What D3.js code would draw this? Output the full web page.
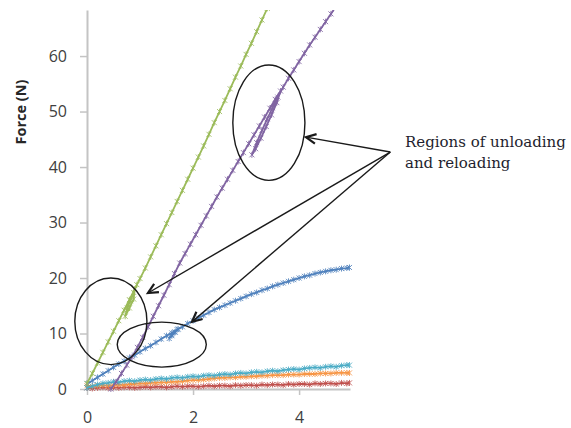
<!DOCTYPE html>
<html>
<head>
<meta charset="utf-8">
<script src="https://cdn.jsdelivr.net/npm/d3@7"></script>
<style>
  body { margin: 0; background: #fff; }
  svg { display: block; }
</style>
</head>
<body>
<div id="chart"></div>
<script>
// Force vs displacement, with unloading / reloading loops

// x ticks and y ticks
var xTicks = [0, 2, 4];
var yTicks = [0, 10, 20, 30, 40, 50, 60];

// shared sample positions for the low series
var sampleX = [0, 0.1, 0.2, 0.3, 0.4, 0.5, 0.6, 0.7, 0.8, 0.9, 1.0, 1.1, 1.2, 1.3, 1.4, 1.5, 1.6, 1.7, 1.8, 1.9,
  2.0, 2.1, 2.2, 2.3, 2.4, 2.5, 2.6, 2.7, 2.8, 2.9, 3.0, 3.1, 3.2, 3.3, 3.4, 3.5, 3.6, 3.7, 3.8, 3.9,
  4.0, 4.1, 4.2, 4.3, 4.4, 4.5, 4.6, 4.7, 4.8, 4.9, 4.95];

var cyanForce = [0.2, 0.5, 0.8, 1.0, 1.1, 1.3, 1.2, 1.4, 1.5, 1.4, 1.6, 1.7, 1.6, 1.8, 1.9, 1.8, 2.0, 2.1, 2.0, 2.2,
  2.3, 2.2, 2.4, 2.5, 2.4, 2.6, 2.7, 2.6, 2.8, 2.9, 2.8, 3.0, 3.1, 3.0, 3.2, 3.3, 3.2, 3.4, 3.5, 3.6,
  3.5, 3.7, 3.8, 3.9, 3.8, 4.0, 4.1, 4.0, 4.2, 4.3, 4.3];
var orangeForce = [0.6, 0.5, 0.6, 0.7, 0.6, 0.7, 0.8, 0.7, 0.9, 0.9, 1.0, 1.0, 1.1, 1.1, 1.2, 1.2, 1.3, 1.3, 1.4, 1.5,
  1.6, 1.6, 1.7, 1.8, 1.9, 2.0, 2.0, 2.1, 2.1, 2.2, 2.2, 2.3, 2.3, 2.4, 2.4, 2.5, 2.5, 2.5, 2.6, 2.6,
  2.6, 2.7, 2.7, 2.7, 2.8, 2.8, 2.8, 2.9, 2.9, 2.9, 2.9];
var redForce = [0.2, 0.1, 0.2, 0.3, 0.2, 0.3, 0.2, 0.3, 0.3, 0.2, 0.3, 0.4, 0.3, 0.4, 0.4, 0.3, 0.4, 0.5, 0.4, 0.5,
  0.5, 0.4, 0.5, 0.6, 0.5, 0.6, 0.6, 0.5, 0.7, 0.6, 0.7, 0.7, 0.6, 0.8, 0.7, 0.8, 0.8, 0.7, 0.9, 0.8,
  0.9, 0.9, 0.8, 1.0, 0.9, 1.0, 1.0, 0.9, 1.1, 1.0, 1.1];

// series with loops are kept as [displacement, force] pairs
var greenPts = [[0, 1.0], [0.1, 2.8], [0.2, 4.7], [0.3, 6.6], [0.4, 8.5], [0.5, 10.4], [0.6, 12.3], [0.7, 14.2],
  [0.8, 16.1], [0.9, 18.0], [0.88, 16.2], [0.8, 14.6], [0.72, 13.1], [0.76, 14.6], [0.82, 15.9], [0.88, 17.4],
  [0.94, 18.8], [1.0, 19.9], [1.1, 21.8], [1.2, 23.8], [1.3, 25.8], [1.4, 27.8], [1.5, 29.8], [1.6, 31.8],
  [1.7, 33.8], [1.8, 35.8], [1.9, 37.8], [2.0, 39.8], [2.1, 41.8], [2.2, 43.8], [2.3, 45.9], [2.4, 48.0],
  [2.5, 50.0], [2.6, 52.0], [2.7, 54.1], [2.8, 56.2], [2.9, 58.2], [3.0, 60.3], [3.1, 62.3], [3.2, 64.4],
  [3.3, 66.5], [3.4, 68.6]];

var purplePts = [[0.45, 0], [0.55, 1.3], [0.65, 2.8], [0.75, 4.3], [0.85, 5.8], [0.95, 7.5], [1.05, 9.3], [1.15, 11.2],
  [1.25, 13.1], [1.35, 15.0], [1.45, 16.9], [1.55, 18.8], [1.65, 20.8], [1.75, 22.7], [1.85, 24.4], [1.95, 26.1],
  [2.05, 27.8], [2.15, 29.5], [2.25, 31.2], [2.35, 32.9], [2.45, 34.6], [2.55, 36.2], [2.65, 37.8], [2.75, 39.4],
  [2.85, 41.0], [2.95, 42.6], [3.05, 44.2], [3.15, 45.8], [3.25, 47.4], [3.35, 49.0], [3.45, 50.6], [3.55, 52.2],
  [3.65, 53.7], [3.58, 51.6], [3.48, 49.4], [3.38, 47.3], [3.28, 45.2], [3.18, 43.3], [3.11, 42.2],
  [3.2, 44.4], [3.3, 46.6], [3.4, 48.7], [3.5, 50.7], [3.6, 52.6], [3.7, 54.4], [3.8, 56.0], [3.9, 57.5],
  [4.0, 59.0], [4.1, 60.5], [4.2, 62.0], [4.3, 63.4], [4.4, 64.8], [4.5, 66.2], [4.6, 67.6], [4.7, 69.0]];

var bluePts = [[0, 1.0], [0.1, 1.5], [0.2, 2.1], [0.3, 2.7], [0.4, 3.3], [0.5, 3.9], [0.6, 4.5], [0.7, 5.0],
  [0.8, 5.6], [0.9, 6.1], [1.0, 6.7], [1.1, 7.3], [1.2, 7.8], [1.3, 8.4], [1.4, 9.0], [1.5, 9.6], [1.6, 10.1],
  [1.7, 10.7], [1.66, 10.2], [1.6, 9.6], [1.55, 9.1], [1.6, 9.8], [1.66, 10.3], [1.72, 10.8], [1.8, 11.2],
  [1.9, 11.8], [2.0, 12.3], [2.1, 12.8], [2.2, 13.3], [2.3, 13.8], [2.4, 14.3], [2.5, 14.7], [2.6, 15.1],
  [2.7, 15.5], [2.8, 15.9], [2.9, 16.3], [3.0, 16.7], [3.1, 17.1], [3.2, 17.4], [3.3, 17.8], [3.4, 18.1],
  [3.5, 18.5], [3.6, 18.8], [3.7, 19.1], [3.8, 19.4], [3.9, 19.7], [4.0, 20.0], [4.1, 20.3], [4.2, 20.5],
  [4.3, 20.8], [4.4, 21.0], [4.5, 21.2], [4.6, 21.4], [4.7, 21.5], [4.8, 21.7], [4.9, 21.8], [4.95, 21.9]];

// annotation ellipses in data units: [cx, cy, rx, ry]
var loopEllipses = [[3.43, 48.0, 0.68, 10.4], [0.45, 12.2, 0.68, 7.8], [1.41, 8.0, 0.84, 4.05]];
var arrowFrom = [5.72, 42.7];
var arrowTips = [[4.13, 45.4], [1.15, 17.3], [1.98, 12.1]];
var noteLines = ['Regions of unloading', 'and reloading'];

var width = 571, height = 428;

var x = d3.scaleLinear().domain([0, 4.96]).range([87, 350]);
var y = d3.scaleLinear().domain([0, 68.3]).range([389, 10]);

var svg = d3.select('#chart').append('svg')
  .attr('width', width)
  .attr('height', height)
  .style('background', '#fff');

svg.append('defs').append('clipPath').attr('id', 'plot-clip')
  .append('rect').attr('x', 80).attr('y', 10).attr('width', 280).attr('height', 390);

// axes
var yAxis = d3.axisLeft(y).tickValues(yTicks).tickSize(7).tickPadding(13).tickSizeOuter(0)
  .tickFormat(d3.format('d'));
var xAxis = d3.axisBottom(x).tickValues(xTicks).tickSize(6).tickPadding(17).tickSizeOuter(0)
  .tickFormat(d3.format('d'));

var gy = svg.append('g').attr('class', 'y axis').attr('transform', 'translate(87,0)').call(yAxis);
var gx = svg.append('g').attr('class', 'x axis').attr('transform', 'translate(0,389)').call(xAxis);

[gx, gy].forEach(function (g) {
  g.select('.domain').attr('stroke', '#c4c4c4').attr('stroke-width', 2);
  g.selectAll('.tick line').attr('stroke', '#c4c4c4').attr('stroke-width', 1.5);
  g.selectAll('.tick text')
    .attr('fill', '#404040')
    .style('font-family', '"Open Sans", sans-serif')
    .style('font-size', '16px');
});

svg.append('text')
  .attr('transform', 'translate(26,112) rotate(-90)')
  .attr('text-anchor', 'middle')
  .style('font-family', '"Open Sans", sans-serif')
  .style('font-size', '14.5px')
  .style('font-weight', 'bold')
  .attr('fill', '#262626')
  .text('Force (N)');

// series
var series = [
  {name: 'red', color: '#c0504d', pts: sampleX.map(function (d, i) { return [d, redForce[i]]; })},
  {name: 'orange', color: '#f79646', pts: sampleX.map(function (d, i) { return [d, orangeForce[i]]; })},
  {name: 'cyan', color: '#4bacc6', pts: sampleX.map(function (d, i) { return [d, cyanForce[i]]; })},
  {name: 'blue', color: '#4f81bd', pts: bluePts},
  {name: 'purple', color: '#8064a2', pts: purplePts},
  {name: 'green', color: '#9bbb59', pts: greenPts}
];

var line = d3.line()
  .x(function (d) { return x(d[0]); })
  .y(function (d) { return y(d[1]); });

var plot = svg.append('g').attr('clip-path', 'url(#plot-clip)');

// asterisk-like excel marker
var star = 'M-2.5,-2.5L2.5,2.5M-2.5,2.5L2.5,-2.5M0,-3L0,3';

series.forEach(function (s) {
  var g = plot.append('g').attr('class', 'series ' + s.name);
  g.append('path')
    .attr('d', line(s.pts))
    .attr('fill', 'none')
    .attr('stroke', s.color)
    .attr('stroke-width', 1.8);
  g.selectAll('path.mark')
    .data(s.pts)
    .enter().append('path')
    .attr('class', 'mark')
    .attr('transform', function (d) { return 'translate(' + x(d[0]) + ',' + y(d[1]) + ')'; })
    .attr('d', star)
    .attr('stroke', s.color)
    .attr('stroke-width', 1)
    .attr('opacity', 0.85);
});

// annotations
var notes = svg.append('g').attr('class', 'notes');

notes.selectAll('ellipse')
  .data(loopEllipses)
  .enter().append('ellipse')
  .attr('cx', function (d) { return x(d[0]); })
  .attr('cy', function (d) { return y(d[1]); })
  .attr('rx', function (d) { return x(d[2]) - x(0); })
  .attr('ry', function (d) { return y(0) - y(d[3]); })
  .attr('fill', 'none')
  .attr('stroke', '#1a1a1a')
  .attr('stroke-width', 1.4);

var ox = x(arrowFrom[0]), oy = y(arrowFrom[1]);
arrowTips.forEach(function (t) {
  var tx = x(t[0]), ty = y(t[1]);
  var ang = Math.atan2(oy - ty, ox - tx);
  var len = 11, spread = 0.45;
  var h1 = [tx + len * Math.cos(ang + spread), ty + len * Math.sin(ang + spread)];
  var h2 = [tx + len * Math.cos(ang - spread), ty + len * Math.sin(ang - spread)];
  notes.append('line')
    .attr('x1', ox).attr('y1', oy).attr('x2', tx).attr('y2', ty)
    .attr('stroke', '#1a1a1a').attr('stroke-width', 1.4);
  notes.append('path')
    .attr('d', 'M' + h1 + 'L' + tx + ',' + ty + 'L' + h2)
    .attr('fill', 'none')
    .attr('stroke', '#1a1a1a')
    .attr('stroke-width', 2.2)
    .attr('stroke-linejoin', 'miter');
});

notes.selectAll('text.note')
  .data(noteLines)
  .enter().append('text')
  .attr('class', 'note')
  .attr('x', 405)
  .attr('y', function (d, i) { return 147 + i * 21; })
  .style('font-family', '"DejaVu Serif", serif')
  .style('font-size', '15px')
  .attr('fill', '#1e1e2e')
  .text(function (d) { return d; });
</script>
</body>
</html>
